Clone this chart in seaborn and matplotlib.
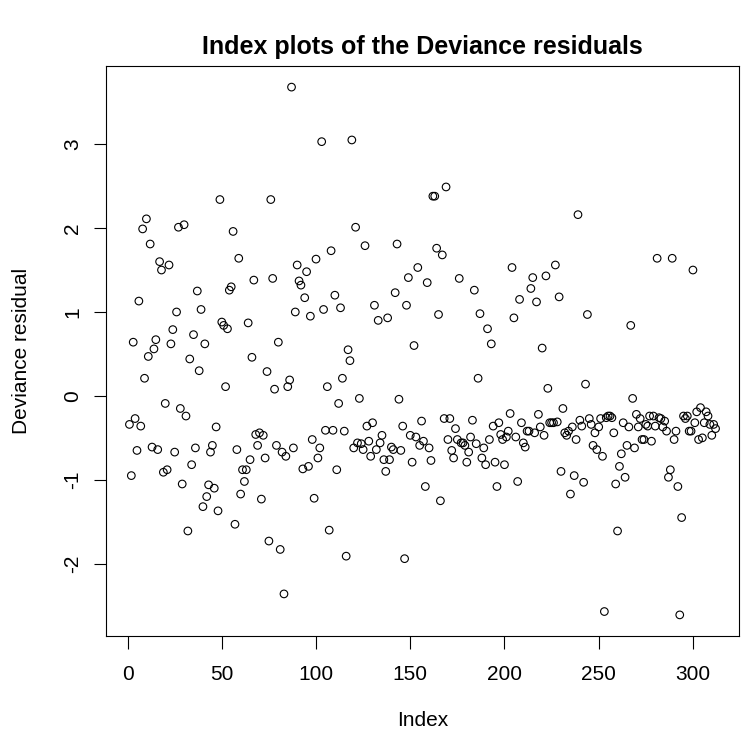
import matplotlib
matplotlib.use("Agg")
import matplotlib.pyplot as plt
import seaborn as sns
import numpy as np
import pandas as pd

# Deviance residuals, in index order (1..n)
residuals = [
    -0.34, -0.95, 0.64, -0.27, -0.65, 1.13, -0.36, 1.99, 0.21, 2.11,
    0.47, 1.81, -0.61, 0.56, 0.67, -0.64, 1.60, 1.50, -0.91, -0.09,
    -0.88, 1.56, 0.62, 0.79, -0.67, 1.00, 2.01, -0.15, -1.05, 2.04,
    -0.24, -1.61, 0.44, -0.82, 0.73, -0.62, 1.25, 0.30, 1.03, -1.32,
    0.62, -1.20, -1.06, -0.67, -0.59, -1.10, -0.37, -1.37, 2.34, 0.88,
    # 51-101
    0.84, 0.11, 0.80, 1.26, 1.30, 1.96, -1.53, -0.64, 1.64, -1.17,
    -0.88, -1.02, -0.88, 0.87, -0.76, 0.46, 1.38, -0.46, -0.59, -0.44,
    -1.23, -0.47, -0.74, 0.29, -1.73, 2.34, 1.40, 0.08, -0.59, 0.64,
    -1.83, -0.67, -2.36, -0.72, 0.11, 0.19, 3.68, -0.62, 1.00, 1.56,
    1.37, 1.32, -0.87, 1.17, 1.48, -0.84, 0.95, -0.52, -1.22, 1.63,
    -0.74,
    # 102-151
    -0.62, 3.03, 1.03, -0.41, 0.11, -1.60, 1.73, -0.41, 1.20, -0.88,
    -0.09, 1.05, 0.21, -0.42, -1.91, 0.55, 0.42, 3.05, -0.62, 2.01,
    -0.56, -0.03, -0.57, -0.64, 1.79, -0.36, -0.54, -0.72, -0.32, 1.08,
    -0.64, 0.90, -0.56, -0.47, -0.76, -0.90, 0.93, -0.76, -0.61, -0.64,
    1.23, 1.81, -0.04, -0.65, -0.36, -1.94, 1.08, 1.41, -0.47, -0.79,
    # 152-202
    0.60, -0.49, 1.53, -0.59, -0.30, -0.54, -1.08, 1.35, -0.62, -0.77,
    2.38, 2.38, 1.76, 0.97, -1.25, 1.68, -0.27, 2.49, -0.52, -0.27,
    -0.65, -0.74, -0.39, -0.52, 1.40, -0.56, -0.56, -0.59, -0.79, -0.67,
    -0.49, -0.29, 1.26, -0.57, 0.21, 0.98, -0.74, -0.62, -0.82, 0.80,
    -0.52, 0.62, -0.36, -0.79, -1.08, -0.32, -0.46, -0.52, -0.82, -0.49,
    -0.42,
    # 203-252
    -0.21, 1.53, 0.93, -0.49, -1.02, 1.15, -0.32, -0.56, -0.61, -0.42,
    -0.42, 1.28, 1.41, -0.44, 1.12, -0.22, -0.37, 0.57, -0.47, 1.43,
    0.09, -0.32, -0.32, -0.32, 1.56, -0.31, 1.18, -0.90, -0.15, -0.44,
    -0.47, -0.42, -1.17, -0.37, -0.95, -0.52, 2.16, -0.29, -0.36, -1.03,
    0.14, 0.97, -0.27, -0.34, -0.59, -0.44, -0.64, -0.37, -0.27, -0.72,
    # 253-312
    -2.57, -0.26, -0.24, -0.24, -0.26, -0.44, -1.05, -1.61, -0.84, -0.69,
    -0.32, -0.97, -0.59, -0.37, 0.84, -0.03, -0.62, -0.22, -0.37, -0.27,
    -0.52, -0.52, -0.34, -0.36, -0.24, -0.54, -0.24, -0.36, 1.64, -0.26,
    -0.27, -0.37, -0.30, -0.42, -0.97, -0.88, 1.64, -0.52, -0.42, -1.08,
    -2.61, -1.45, -0.24, -0.27, -0.24, -0.42, -0.42, 1.50, -0.32, -0.19,
    -0.52, -0.14, -0.50, -0.32, -0.19, -0.24, -0.34, -0.47, -0.34, -0.39,
]
index = list(range(1, len(residuals) + 1))

x_ticks = [0, 50, 100, 150, 200, 250, 300]
y_ticks = [-2, -1, 0, 1, 2, 3]

title_text = "Index plots of the Deviance residuals"
x_label = "Index"
y_label = "Deviance residual"

df = pd.DataFrame({"Index": index, "Deviance residual": residuals})

sns.set_style("white")
plt.rcParams["font.family"] = ["Liberation Sans", "DejaVu Sans"]

W, H = 742, 744
fig = plt.figure(figsize=(W / 100, H / 100), dpi=100)
left_px, right_px, top_px, bottom_px = 106, 739, 66, 636
ax = fig.add_axes([left_px / W, 1 - bottom_px / H,
                   (right_px - left_px) / W, (bottom_px - top_px) / H])

sns.scatterplot(data=df, x="Index", y="Deviance residual", ax=ax,
                marker="o", s=30, facecolors="none", edgecolors="black",
                linewidths=0.8, legend=False)

n = len(residuals)
xr = n - 1
ax.set_xlim(1 - 0.04 * xr, n + 0.04 * xr)
ymin, ymax = min(residuals), max(residuals)
yr = ymax - ymin
ax.set_ylim(ymin - 0.04 * yr, ymax + 0.04 * yr)

label_fs = 15
ax.set_xticks(x_ticks)
ax.set_xticklabels([str(t) for t in x_ticks])
ax.set_yticks(y_ticks)
ax.set_yticklabels([str(t) for t in y_ticks], rotation=90, va="center")

for s in ax.spines.values():
    s.set_visible(True)
    s.set_color("black")
    s.set_linewidth(0.8)

ax.tick_params(axis="both", which="major", direction="out", length=9,
               width=0.8, color="black", labelsize=label_fs,
               labelcolor="black",
               bottom=True, left=True, top=False, right=False)
ax.tick_params(axis="x", pad=12)
ax.tick_params(axis="y", pad=8)

ax.set_xlabel(x_label, fontsize=label_fs, color="black")
ax.set_ylabel(y_label, fontsize=label_fs, color="black")
ax.xaxis.label.set_va("center")
ax.yaxis.label.set_va("center")
ax.xaxis.set_label_coords(0.5, (bottom_px - 720) / (bottom_px - top_px))
ax.yaxis.set_label_coords((22 - left_px) / (right_px - left_px), 0.5)

fig.text((left_px + right_px) / 2 / W, 1 - 47 / H, title_text,
         ha="center", va="center", fontsize=18, fontweight="bold",
         color="black")

ax.grid(False)
fig.savefig("out.png", dpi=100, facecolor="white")
